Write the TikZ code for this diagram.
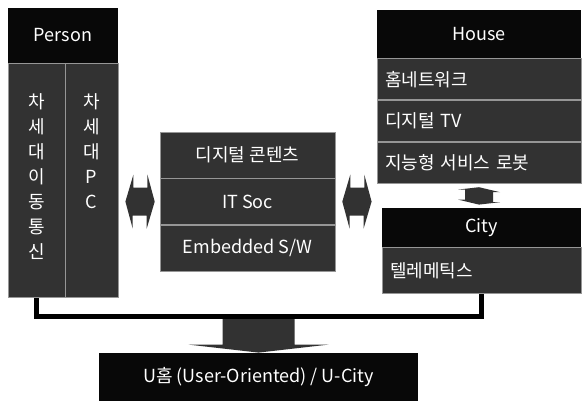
\documentclass[tikz,border=0pt]{standalone}
\usepackage{fontspec}
\usetikzlibrary{positioning,calc}
\newfontfamily\krfont{Noto Sans CJK KR}
\definecolor{CellBlack}{RGB}{8,8,8}
\definecolor{CellGray}{RGB}{50,50,50}
\definecolor{CellLine}{RGB}{150,150,150}

\begin{document}
\begin{tikzpicture}[
x=0.5pt,y=-0.5pt,
node distance=0pt,
hdr/.style={rectangle,fill=CellBlack,text=white,inner sep=0pt,
font=\krfont\fontsize{9}{11}\selectfont},
cell/.style={rectangle,fill=CellGray,draw=CellLine,line width=0.3pt,text=white,
inner sep=0pt,font=\krfont\fontsize{9}{11}\selectfont},
item/.style={cell,text width=94pt,inner xsep=4pt,align=left},
vtext/.style={text=white,inner sep=0pt,align=center,font=\krfont\fontsize{9}{12.5}\selectfont},
blk/.style={fill=CellGray},
link/.style={line width=2.5pt,draw=black,line join=miter}
]
\useasboundingbox (0,0) rectangle (583,401);

% Person
\node[hdr,minimum width=55pt,minimum height=27.5pt] (person) at (63,35.5) {Person};
\node[cell,minimum width=28.5pt,minimum height=117pt,anchor=north west] (pmob) at (person.south west) {};
\node[cell,minimum width=26.5pt,minimum height=117pt,anchor=north east] (ppc) at (person.south east) {};
\node[vtext,anchor=north] (pmobtxt) at ([yshift=-15pt]pmob.north) {차\\세\\대\\이\\동\\통\\신};
\node[vtext,anchor=north] (ppctxt) at ([yshift=-15pt]ppc.north) {차\\세\\대\\P\\C};

% core technologies
\node[cell,minimum width=87.5pt,minimum height=23pt] (mid1) at (247.5,155) {디지털 콘텐츠};
\node[cell,minimum width=87.5pt,minimum height=23pt,below=of mid1] (mid2) {IT Soc};
\node[cell,minimum width=87.5pt,minimum height=23pt,below=of mid2] (mid3) {Embedded S/W};

% House / City
\node[hdr,minimum width=102pt,minimum height=24pt] (house) at (479,34) {House};
\node[item,minimum height=20.5pt,below=of house] (hnet) {홈네트워크};
\node[item,minimum height=20.5pt,below=of hnet] (htv) {디지털 TV};
\node[item,minimum height=20.5pt,below=of htv] (hbot) {지능형 서비스 로봇};
\node[hdr,minimum width=99.5pt,minimum height=19.5pt] (city) at (481.5,227.5) {City};
\node[item,text width=91.5pt,minimum height=23pt,below=of city] (ctel) {텔레메틱스};

% result
\node[hdr,minimum width=159.5pt,minimum height=24pt] (uhome) at (258.5,377) {U홈 (User-Oriented) / U-City};

% block arrows
\coordinate (la) at ($(ppc.east |- mid2.center)+(7,0)$);
\coordinate (lb) at ($(mid2.west)+(-5,0)$);
\fill[blk] (la) -- ++(8,-27) -- ++(0,13) -- ++(14,0) -- ++(0,-13) -- (lb)
  -- ++(-8,27) -- ++(0,-13) -- ++(-14,0) -- ++(0,13) -- cycle;
\coordinate (ra) at ($(mid2.east)+(7,0)$);
\coordinate (rb) at ($(mid2.east -| house.west)+(-5,0)$);
\fill[blk] (ra) -- ++(8,-27) -- ++(0,13) -- ++(14,0) -- ++(0,-13) -- (rb)
  -- ++(-8,27) -- ++(0,-13) -- ++(-14,0) -- ++(0,13) -- cycle;
\coordinate (va) at ($(hbot.south)+(0,4)$);
\coordinate (vb) at ($(city.north)+(-2.5,-3)$);
\fill[blk] (va) -- ++(21,5) -- ++(-7,0) -- ++(0,10) -- ++(7,0) -- (vb)
  -- ++(-21,-5) -- ++(7,0) -- ++(0,-10) -- ++(-7,0) -- cycle;
\coordinate (dtip) at (uhome.north);
\fill[blk] (dtip) -- ++(-70,-8) -- ++(34,0) -- ++(0,-30) -- ++(72,0) -- ++(0,30) -- ++(34,0) -- cycle;

\draw[link] (pmob.south) -- ++(0,18) -| (ctel.south);
\end{tikzpicture}
\end{document}
